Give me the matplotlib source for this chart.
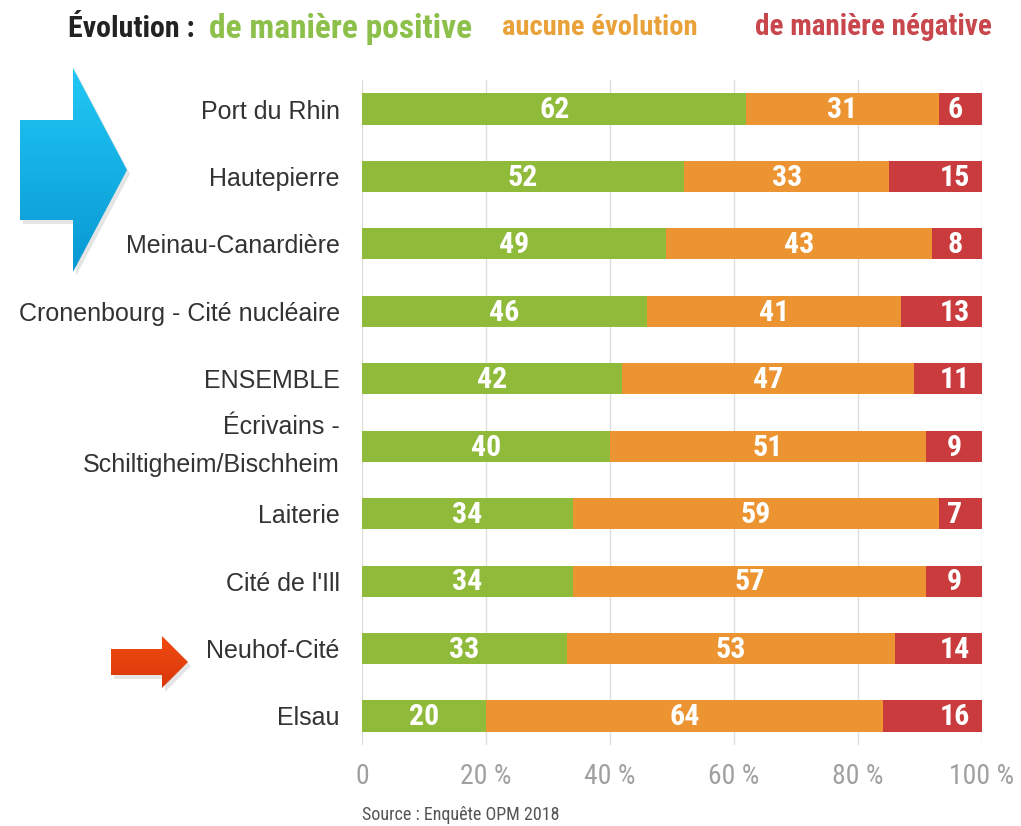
import numpy as np
import matplotlib
matplotlib.use("Agg")
import matplotlib.pyplot as plt
from matplotlib.patches import Polygon

# ---------------- data ----------------
categories = ["Port du Rhin", "Hautepierre", "Meinau-Canardière",
              "Cronenbourg - Cité nucléaire", "ENSEMBLE",
              "Écrivains -\nSchiltigheim/Bischheim", "Laiterie",
              "Cité de l'Ill", "Neuhof-Cité", "Elsau"]
positive = [62, 52, 49, 46, 42, 40, 34, 34, 33, 20]
no_change = [31, 33, 43, 41, 47, 51, 59, 57, 53, 64]
negative = [6, 15, 8, 13, 11, 9, 7, 9, 14, 16]
xticks = [0, 20, 40, 60, 80, 100]
xticklabels = ["0", "20 %", "40 %", "60 %", "80 %", "100 %"]

GREEN = "#8fba3a"
ORANGE = "#ec9431"
RED = "#c93b3c"

NARROW = ["Roboto Condensed", "PT Sans Narrow", "DejaVu Sans"]
REG = ["Liberation Sans", "DejaVu Sans"]

W, H = 1021, 826
fig = plt.figure(figsize=(W / 100, H / 100), dpi=100)
fig.patch.set_facecolor("white")

# main axes (pixel layout: x 362..982, y 80..745)
ax = fig.add_axes([362 / W, 1 - 745 / H, 620 / W, 665 / H])
y = np.arange(len(categories))
bh = 0.46
ax.barh(y, positive, height=bh, color=GREEN, zorder=3)
ax.barh(y, no_change, left=positive, height=bh, color=ORANGE, zorder=3)
lefts = [p + n for p, n in zip(positive, no_change)]
ax.barh(y, [100 - l for l in lefts], left=lefts, height=bh, color=RED, zorder=3)

lab_kw = dict(color="white", fontsize=21.5, fontweight="bold",
              family=NARROW, va="center", ha="center", zorder=4)
for i in range(len(categories)):
    ax.text(positive[i] / 2, y[i] + 0.02, str(positive[i]), **lab_kw)
    ax.text(positive[i] + no_change[i] / 2, y[i] + 0.02, str(no_change[i]), **lab_kw)
    ax.text(95.6, y[i] + 0.02, str(negative[i]), **lab_kw)

ax.set_xlim(0, 100)
ax.set_ylim(len(categories) - 1 + 0.43, -0.43)
ax.set_xticks(xticks)
ax.set_xticklabels(xticklabels, family=NARROW, fontsize=20, color="#a0a0a0")
ax.set_yticks(y)
ax.set_yticklabels(categories, family=REG, fontsize=18,
                   color="#333333", linespacing=1.75)
for lbl in ax.get_yticklabels():
    if "\n" in lbl.get_text():
        lbl.set_verticalalignment("center")
ax.tick_params(axis="x", length=0, pad=13)
ax.tick_params(axis="y", length=0, pad=16)
ax.grid(axis="x", color="#dedede", linewidth=1, zorder=0)
for s in ax.spines.values():
    s.set_visible(False)

# title pieces
title_y = 1 - 29 / H
tkw = dict(fontweight="bold", family=NARROW, va="center", ha="left")
fig.text(68 / W, title_y, "Évolution :", color="#222222", fontsize=21.5, **tkw)
fig.text(209 / W, title_y, "de manière positive", color="#8cc04a", fontsize=24, **tkw)
fig.text(502 / W, title_y + 0.002, "aucune évolution", color="#e9a23a", fontsize=20.5, **tkw)
fig.text(755 / W, title_y + 0.002, "de manière négative", color="#c8474c", fontsize=21, **tkw)

# source
fig.text(362 / W, 1 - 815 / H, "Source : Enquête OPM 2018", color="#555555",
         fontsize=13, family=NARROW, va="center", ha="left")

# decorative arrows (overlay in pixel coordinates)
ov = fig.add_axes([0, 0, 1, 1], zorder=5)
ov.set_xlim(0, W)
ov.set_ylim(H, 0)
ov.axis("off")
ov.patch.set_alpha(0)

def grad_arrow(pts, c_top, c_bot, shadow=True):
    pts = np.array(pts, dtype=float)
    if shadow:
        sh = Polygon(pts + [3, 4], closed=True, facecolor="#000000", alpha=0.10,
                     edgecolor="none")
        ov.add_patch(sh)
    poly = Polygon(pts, closed=True, facecolor="none", edgecolor="none")
    ov.add_patch(poly)
    x0, x1 = pts[:, 0].min(), pts[:, 0].max()
    y0, y1 = pts[:, 1].min(), pts[:, 1].max()
    t = np.linspace(0, 1, 64)[:, None]
    ct = np.array(matplotlib.colors.to_rgb(c_top))
    cb = np.array(matplotlib.colors.to_rgb(c_bot))
    img = (ct * (1 - t) + cb * t)[:, None, :] * np.ones((1, 2, 1))
    im = ov.imshow(img, extent=(x0, x1, y1, y0), aspect="auto", zorder=6,
                   interpolation="bilinear")
    im.set_clip_path(poly)

blue_pts = [(20, 120), (73, 120), (73, 68), (127, 170), (73, 272), (73, 220), (20, 220)]
grad_arrow(blue_pts, "#22c8f6", "#0898d2")
red_pts = [(111, 649), (162, 649), (162, 636), (188, 662), (162, 688), (162, 675), (111, 675)]
grad_arrow(red_pts, "#f04a10", "#d8380c")

fig.savefig("out.png", dpi=100, facecolor="white")
